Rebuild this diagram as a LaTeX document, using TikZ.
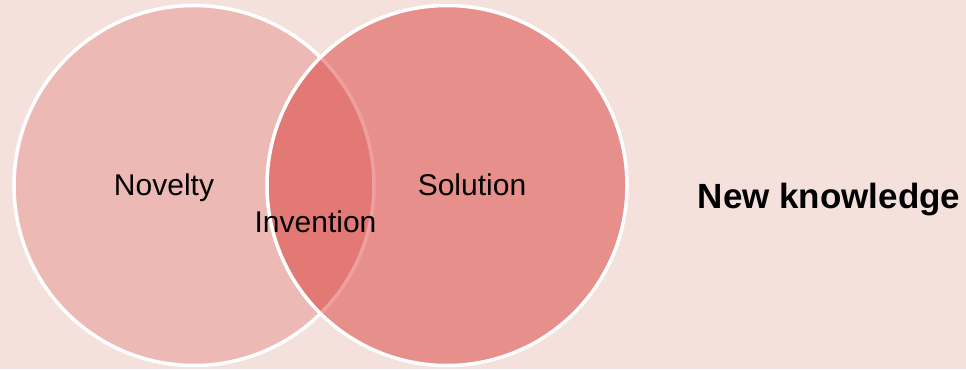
\documentclass[tikz,border=0pt]{standalone}
\usepackage{fontspec}
\setmainfont{Liberation Sans}
\definecolor{bgc}{HTML}{F5E1DC}
\definecolor{leftc}{HTML}{EDB9B5}
\definecolor{rightc}{RGB}{216,45,40}
\tikzset{
  venn/.style={circle, draw=white, line width=3.5bp, minimum size=360bp, inner sep=0pt},
  lbl/.style={anchor=base, inner sep=0pt, font=\fontsize{30bp}{36bp}\selectfont, text=black},
  boldlbl/.style={anchor=base, inner sep=0pt, font=\fontsize{35bp}{42bp}\selectfont\bfseries, text=black}
}
\begin{document}
\begin{tikzpicture}[x=1bp,y=1bp]
\useasboundingbox[fill=bgc] (0,0) rectangle (966,369);
\node[venn, fill=leftc] (novc) at (194,183.5) {};
\node[venn, fill=rightc, fill opacity=0.45] (solc) at (447,183.5) {};
\node[lbl] (nov) at (164,174) {Novelty};
\node[lbl] (sol) at (472,174) {Solution};
\node[lbl] (inv) at (315.5,136.5) {Invention};
\node[boldlbl] (nk) at (829,160.7) {New knowledge};
\end{tikzpicture}
\end{document}
